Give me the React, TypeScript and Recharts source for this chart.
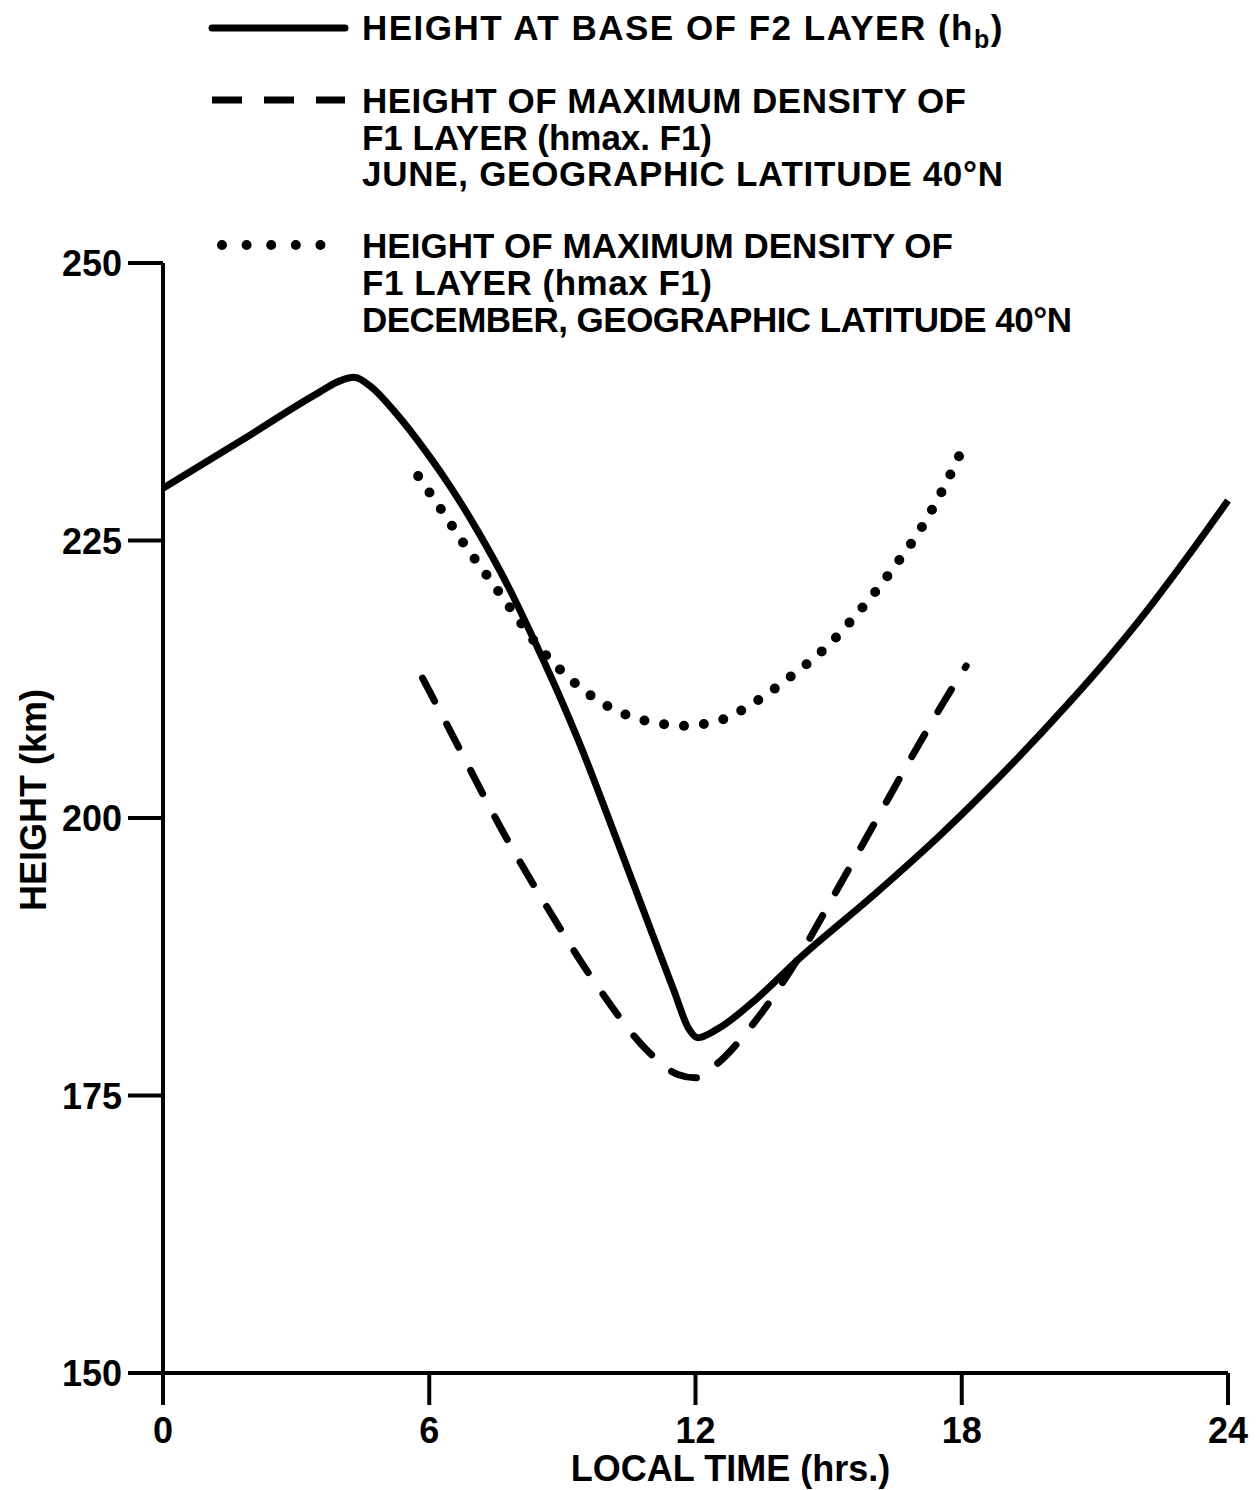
import { LineChart, Line, XAxis, YAxis, Label } from "recharts"

const FONT = "'Liberation Sans', Arial, sans-serif"

// [local time (hrs), height (km)]
const baseF2: [number, number][] = [
  [0, 229.7], [1.8, 234.1], [3.5, 238.3], [4, 239.4], [4.3, 239.7], [4.7, 238.8],
  [5.2, 236.7], [6, 232.6], [6.5, 229.7], [7.1, 225.8], [7.8, 220.7], [8.4, 215.7],
  [9, 210.4], [9.4, 206.6], [10.2, 198.3], [10.9, 190.9], [11.5, 184.6],
  [11.85, 181.0], [12.05, 180.2], [12.5, 181.0], [13.4, 183.8], [14.3, 187.2],
  [16, 193.0], [17.5, 198.4], [18.6, 202.7], [20.4, 210.3], [21.3, 214.4],
  [22, 217.8], [23.1, 223.6], [24, 228.6],
]

const maxF1June: [number, number][] = [
  [5.85, 212.6], [6.7, 206.1], [7.6, 199.2], [8.65, 192.0], [9.85, 184.5],
  [10.9, 179.1], [11.6, 176.9], [12.0, 176.6], [12.5, 177.9], [13.25, 181.2],
  [14.1, 186.0], [15.2, 193.6], [16.1, 200.0], [17.0, 206.4], [17.6, 210.5],
  [18.1, 213.7],
]

const maxF1December: [number, number][] = [
  [5.75, 230.8], [6.3, 227.6], [6.8, 224.6], [7.4, 221.3], [7.9, 218.5],
  [8.45, 215.5], [9.1, 212.8], [9.8, 210.6], [10.5, 209.2], [11.2, 208.5],
  [11.7, 208.3], [12.55, 208.8], [13.4, 210.6], [14.1, 212.6], [15, 215.6],
  [15.6, 218.2], [16.4, 222.2], [17.1, 226.2], [17.6, 229.8], [18.1, 234.0],
]

const hourTicks = [0, 6, 12, 18, 24]
const heightTicks = [150, 175, 200, 225, 250]

const juneLines = ["HEIGHT OF MAXIMUM DENSITY OF", "F1 LAYER (hmax. F1)", "JUNE, GEOGRAPHIC LATITUDE 40°N"]
const juneWidths = [604, 350, 641]
const decemberLines = ["HEIGHT OF MAXIMUM DENSITY OF", "F1 LAYER (hmax F1)", "DECEMBER, GEOGRAPHIC LATITUDE 40°N"]
const decemberWidths = [591, 350, 710]

const toPoints = (pairs: [number, number][]) => pairs.map(([t, h]) => ({ t, h }))

const textStyle = { fontFamily: FONT, fontWeight: 700, fill: "#000" }

function HourTick({ x, y, payload }: any) {
  return (
    <text x={x} y={y + 36} textAnchor="middle" fontSize={36} {...textStyle}>
      {payload.value}
    </text>
  )
}

function HeightTick({ x, y, payload }: any) {
  return (
    <text x={x - 4} y={y + 13} textAnchor="end" fontSize={36} {...textStyle}>
      {payload.value}
    </text>
  )
}

function HeightLabel({ viewBox }: any) {
  const cx = 33
  const cy = viewBox.y + viewBox.height / 2 - 18
  return (
    <text
      x={cx}
      y={cy}
      transform={`rotate(-90, ${cx}, ${cy})`}
      textAnchor="middle"
      dominantBaseline="central"
      fontSize={36}
      {...textStyle}
    >
      HEIGHT (km)
    </text>
  )
}

function TimeLabel({ viewBox }: any) {
  return (
    <text
      x={viewBox.x + viewBox.width / 2 + 35}
      y={viewBox.y + 108}
      textAnchor="middle"
      fontSize={36}
      {...textStyle}
    >
      LOCAL TIME (hrs.)
    </text>
  )
}

function KeyBox() {
  return (
    <svg
      width={1260}
      height={350}
      style={{ position: "absolute", left: 0, top: 0, pointerEvents: "none" }}
    >
      <line x1={212} y1={28} x2={345} y2={28} stroke="#000" strokeWidth={7} strokeLinecap="round" />
      <text x={362} y={40} fontSize={35} letterSpacing={1.5} {...textStyle}>
        HEIGHT AT BASE OF F2 LAYER (h
        <tspan fontSize={25} dy={8}>b</tspan>
        <tspan dy={-8}>)</tspan>
      </text>

      <line x1={212} y1={100} x2={345} y2={100} stroke="#000" strokeWidth={7} strokeDasharray="30 22" />
      {juneLines.map((s, i) => (
        <text key={s} x={362} y={113 + i * 36.5} fontSize={35} textLength={juneWidths[i]} {...textStyle}>
          {s}
        </text>
      ))}

      <line
        x1={222} y1={245} x2={345} y2={245}
        stroke="#000" strokeWidth={10} strokeLinecap="round" strokeDasharray="0 24.6"
      />
      {decemberLines.map((s, i) => (
        <text key={s} x={362} y={258 + i * 37} fontSize={35} textLength={decemberWidths[i]} {...textStyle}>
          {s}
        </text>
      ))}
    </svg>
  )
}

export default function App() {
  return (
    <div style={{ position: "absolute", left: 0, top: 0, width: 1260, height: 1490, background: "#fff" }}>
      <LineChart width={1260} height={1490} margin={{ top: 263, right: 32, bottom: 0, left: 0 }}>
        <XAxis
          dataKey="t"
          type="number"
          domain={[0, 24]}
          ticks={hourTicks}
          height={117}
          tickSize={32}
          axisLine={{ stroke: "#000", strokeWidth: 4 }}
          tickLine={{ stroke: "#000", strokeWidth: 4 }}
          tick={<HourTick />}
        >
          <Label content={<TimeLabel />} />
        </XAxis>
        <YAxis
          type="number"
          domain={[150, 250]}
          ticks={heightTicks}
          width={163}
          tickSize={35}
          axisLine={{ stroke: "#000", strokeWidth: 4 }}
          tickLine={{ stroke: "#000", strokeWidth: 4 }}
          tick={<HeightTick />}
        >
          <Label content={<HeightLabel />} />
        </YAxis>
        <Line
          data={toPoints(baseF2)}
          dataKey="h"
          type="monotone"
          stroke="#000"
          strokeWidth={7}
          strokeLinejoin="round"
          dot={false}
          activeDot={false}
          isAnimationActive={false}
        />
        <Line
          data={toPoints(maxF1June)}
          dataKey="h"
          type="monotone"
          stroke="#000"
          strokeWidth={7}
          strokeDasharray="26 26"
          strokeLinecap="round"
          dot={false}
          activeDot={false}
          isAnimationActive={false}
        />
        <Line
          data={toPoints(maxF1December)}
          dataKey="h"
          type="monotone"
          stroke="#000"
          strokeWidth={10}
          strokeDasharray="0 20"
          strokeLinecap="round"
          dot={false}
          activeDot={false}
          isAnimationActive={false}
        />
      </LineChart>
      <KeyBox />
    </div>
  )
}
